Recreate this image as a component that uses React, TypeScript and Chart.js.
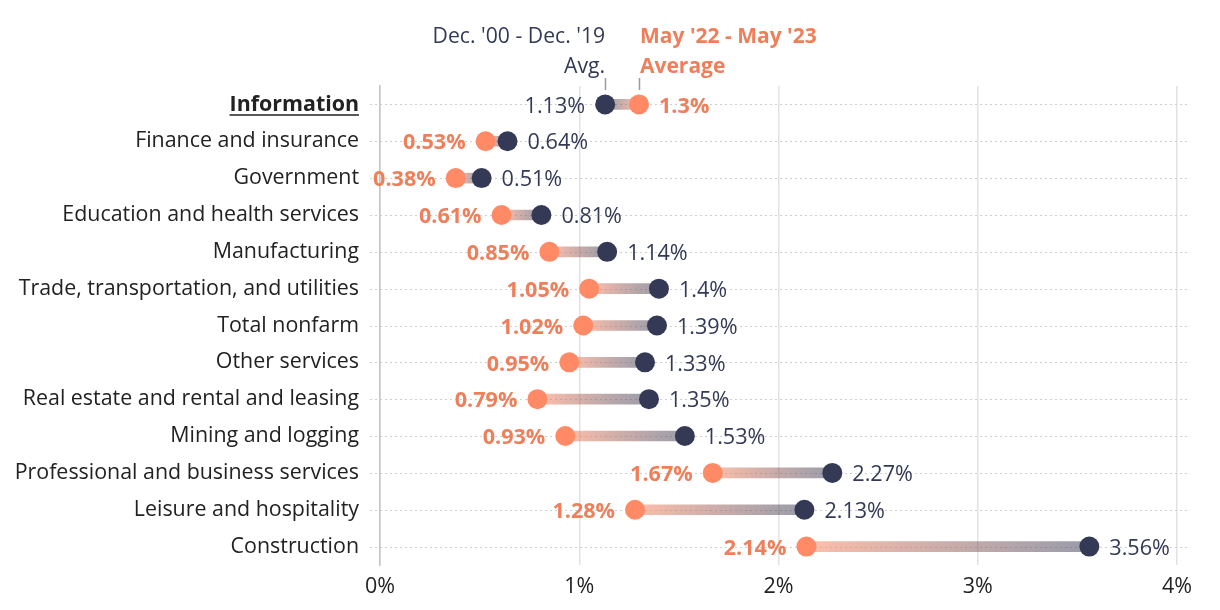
import React, { useEffect, useRef } from 'react';
import Chart from 'chart.js/auto';

const categories = [
  'Information',
  'Finance and insurance',
  'Government',
  'Education and health services',
  'Manufacturing',
  'Trade, transportation, and utilities',
  'Total nonfarm',
  'Other services',
  'Real estate and rental and leasing',
  'Mining and logging',
  'Professional and business services',
  'Leisure and hospitality',
  'Construction',
];
const avg0019 = [1.13, 0.64, 0.51, 0.81, 1.14, 1.4, 1.39, 1.33, 1.35, 1.53, 2.27, 2.13, 3.56];
const avg2223 = [1.3, 0.53, 0.38, 0.61, 0.85, 1.05, 1.02, 0.95, 0.79, 0.93, 1.67, 1.28, 2.14];
const xTickValues = [0, 1, 2, 3, 4];
const navyName = ["Dec. '00 - Dec. '19", 'Avg.'];
const coralName = ["May '22 - May '23", 'Average'];

const FONT = '"Open Sans"';
const CAT_SIZE = 21.4;
const VAL_SIZE = 21.6;
const HEAD_SIZE = 21.2;
const HEAD_BOLD_SIZE = 21;
const TICK_SIZE = 21.5;
const NAVY = '#343a56';
const CORAL = '#ff8a65';
const CORAL_TEXT = '#ef7f5a';
const TEXT = '#222222';

export default function App() {
  const ref = useRef<HTMLCanvasElement | null>(null);
  useEffect(() => {
    if (!ref.current) return;
    const plugin = {
      id: 'dumbbell',
      beforeDatasetsDraw(chart: any) {
        const ctx = chart.ctx;
        const y = chart.scales.y;
        ctx.save();
        ctx.strokeStyle = '#cfcfcf';
        ctx.lineWidth = 1.2;
        ctx.setLineDash([2, 3]);
        categories.forEach((_, i) => {
          const py = Math.round(y.getPixelForValue(i)) + 0.5;
          ctx.beginPath();
          ctx.moveTo(370, py);
          ctx.lineTo(1190, py);
          ctx.stroke();
        });
        ctx.restore();
      },
      afterDatasetsDraw(chart: any) {
        const ctx = chart.ctx;
        const x = chart.scales.x;
        const y = chart.scales.y;
        ctx.save();
        ctx.textBaseline = 'middle';
        const off = 20;
        categories.forEach((_, i) => {
          const c = avg2223[i];
          const n = avg0019[i];
          const xc = x.getPixelForValue(c);
          const xn = x.getPixelForValue(n);
          const py = y.getPixelForValue(i) + 2;
          const cTxt = c + '%';
          const nTxt = n + '%';
          ctx.font = `bold ${VAL_SIZE}px ${FONT}`;
          ctx.fillStyle = CORAL_TEXT;
          if (c < n) {
            ctx.textAlign = 'right';
            ctx.fillText(cTxt, xc - off, py);
          } else {
            ctx.textAlign = 'left';
            ctx.fillText(cTxt, xc + off, py);
          }
          ctx.font = `${VAL_SIZE}px ${FONT}`;
          ctx.fillStyle = NAVY;
          if (c < n) {
            ctx.textAlign = 'left';
            ctx.fillText(nTxt, xn + off, py);
          } else {
            ctx.textAlign = 'right';
            ctx.fillText(nTxt, xn - off, py);
          }
        });
        // header labels tied to first category
        const xn0 = x.getPixelForValue(avg0019[0]);
        const xc0 = x.getPixelForValue(avg2223[0]);
        ctx.font = `${HEAD_SIZE}px ${FONT}`;
        ctx.fillStyle = NAVY;
        ctx.textAlign = 'right';
        ctx.fillText(navyName[0], xn0, 37);
        ctx.fillText(navyName[1], xn0, 67);
        ctx.font = `bold ${HEAD_BOLD_SIZE}px ${FONT}`;
        ctx.fillStyle = CORAL_TEXT;
        ctx.textAlign = 'left';
        ctx.fillText(coralName[0], xc0 + 1, 37);
        ctx.fillText(coralName[1], xc0 + 1, 67);
        ctx.strokeStyle = '#9a9a9a';
        ctx.lineWidth = 1.5;
        [xn0, xc0].forEach((px) => {
          ctx.beginPath();
          ctx.moveTo(Math.round(px) + 0.5, 78);
          ctx.lineTo(Math.round(px) + 0.5, 90);
          ctx.stroke();
        });
        // underline first category label
        ctx.font = `bold ${CAT_SIZE}px ${FONT}`;
        const w = ctx.measureText(categories[0]).width;
        const right = chart.chartArea.left - 21;
        const uy = Math.round(y.getPixelForValue(0)) + 11;
        ctx.strokeStyle = TEXT;
        ctx.lineWidth = 1.5;
        ctx.beginPath();
        ctx.moveTo(right - w, uy);
        ctx.lineTo(right, uy);
        ctx.stroke();
        ctx.restore();
      },
    };

    const chart = new Chart(ref.current, {
      type: 'bar',
      data: {
        labels: categories,
        datasets: [
          {
            type: 'bar',
            data: categories.map((_, i) => [avg2223[i], avg0019[i]]) as any,
            backgroundColor: (c: any) => {
              const ch = c.chart;
              if (!ch.chartArea || c.dataIndex === undefined) return 'rgba(0,0,0,0)';
              const i = c.dataIndex;
              const xs = ch.scales.x;
              const xc = xs.getPixelForValue(avg2223[i]);
              const xn = xs.getPixelForValue(avg0019[i]);
              const g = ch.ctx.createLinearGradient(xc, 0, xn, 0);
              g.addColorStop(0, 'rgba(255,138,101,0.55)');
              g.addColorStop(1, 'rgba(52,58,86,0.5)');
              return g;
            },
            borderWidth: 0,
            borderSkipped: false,
            barThickness: 10,
            order: 3,
            indexAxis: 'y',
          } as any,
          {
            type: 'line',
            data: avg2223,
            showLine: false,
            pointRadius: 10,
            pointHoverRadius: 10,
            pointBackgroundColor: CORAL,
            pointBorderWidth: 0,
            order: 2,
            indexAxis: 'y',
          } as any,
          {
            type: 'line',
            data: avg0019,
            showLine: false,
            pointRadius: 10,
            pointHoverRadius: 10,
            pointBackgroundColor: NAVY,
            pointBorderWidth: 0,
            order: 1,
            indexAxis: 'y',
          } as any,
        ],
      },
      options: {
        indexAxis: 'y',
        animation: false,
        responsive: true,
        maintainAspectRatio: false,
        layout: { padding: { top: 86, right: 43, left: 0, bottom: 0 } },
        plugins: { legend: { display: false }, tooltip: { enabled: false } },
        events: [],
        scales: {
          x: {
            type: 'linear',
            position: 'bottom',
            min: 0,
            max: 4,
            afterBuildTicks: (s: any) => {
              s.ticks = xTickValues.map((v) => ({ value: v }));
            },
            afterFit: (s: any) => {
              s.height = 45;
            },
            ticks: {
              callback: (v: any) => v + '%',
              font: { family: FONT, size: TICK_SIZE },
              color: TEXT,
              padding: 9,
            },
            grid: { color: '#e2e2e2', lineWidth: 1.5, drawTicks: false },
            border: { display: false },
          },
          y: {
            type: 'category',
            position: 'left',
            afterFit: (s: any) => {
              s.width = 380;
            },
            ticks: {
              font: (c: any) => ({ family: FONT, size: CAT_SIZE, weight: c.index === 0 ? 'bold' : 'normal' }),
              color: TEXT,
              padding: 21,
            },
            grid: { display: false, drawTicks: false },
            border: { display: true, color: '#c4c4c4', width: 1.5 },
          },
        },
      } as any,
      plugins: [plugin],
    });
    return () => chart.destroy();
  }, []);

  return (
    <div style={{ position: 'fixed', left: 0, top: 0, width: 1220, height: 610, background: '#fff' }}>
      <canvas ref={ref} />
    </div>
  );
}
